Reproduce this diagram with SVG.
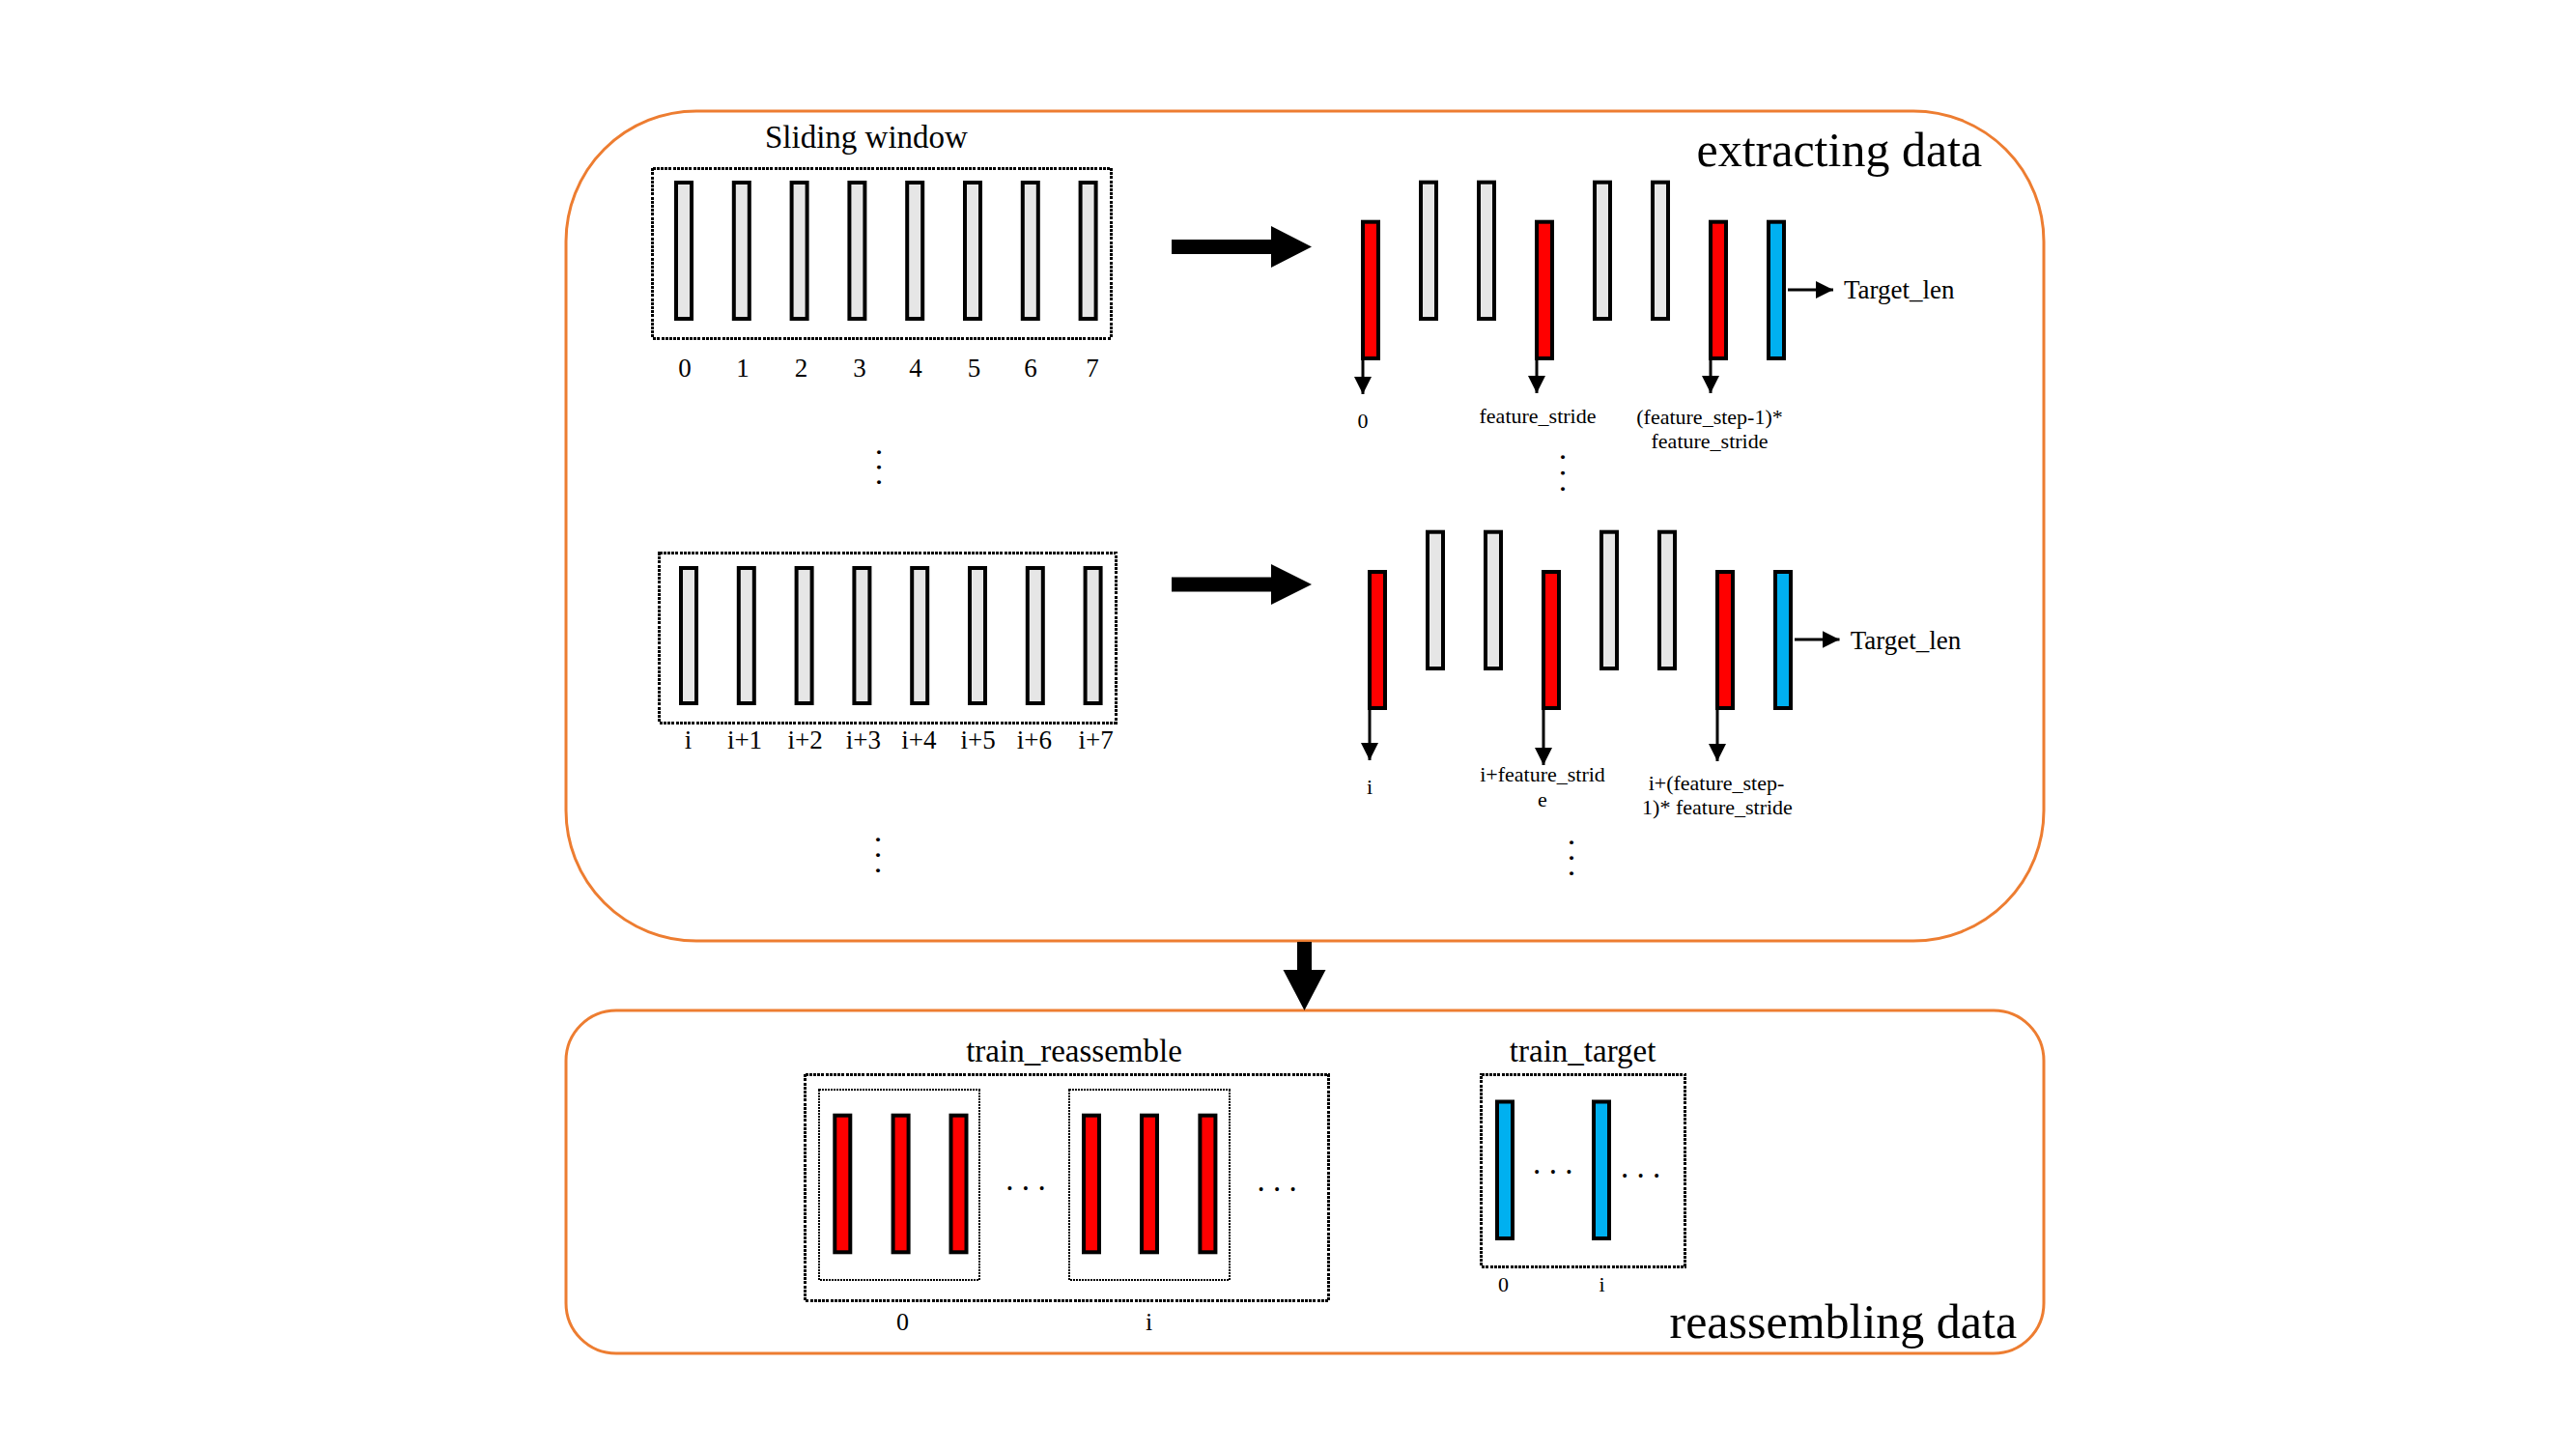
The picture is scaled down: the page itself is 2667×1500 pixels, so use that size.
<svg xmlns="http://www.w3.org/2000/svg" width="2667" height="1500" viewBox="0 0 2667 1500">
<style>
text{font-family:"Liberation Serif","Times New Roman",serif;fill:#000}
.frame{fill:none;stroke:#ED7D31;stroke-width:3}
.dot{fill:none;stroke:#000;stroke-width:3;stroke-dasharray:3 1.2;shape-rendering:crispEdges}
.dot2{fill:none;stroke:#000;stroke-width:2;stroke-dasharray:2 1;shape-rendering:crispEdges}
.g{fill:#E6E6E6;stroke:#000;stroke-width:4}
.r{fill:#FF0000;stroke:#000;stroke-width:4}
.b{fill:#00B0F0;stroke:#000;stroke-width:4}
.ln{stroke:#000;stroke-width:3;fill:none;marker-end:url(#ah)}
.big{fill:#000}
.t22{font-size:22px;text-anchor:middle}
.t27{font-size:27px;text-anchor:middle}
.t33{font-size:33px}
.t50{font-size:50px}
.el{font-size:33px}
</style>
<defs>
<marker id="ah" markerUnits="userSpaceOnUse" viewBox="0 0 18 18" refX="18" refY="9" markerWidth="18" markerHeight="18" orient="auto">
<path d="M0,0 L18,9 L0,18 z" fill="#000"/>
</marker>
</defs>
<rect width="2667" height="1500" fill="#fff"/>

<g id="extracting-data">
<rect class="frame" x="586" y="115" width="1530" height="859" rx="135" ry="135"/>
<text class="t50" x="1756.5" y="172">extracting data</text>
</g>

<g id="window-0">
<text class="t33" x="792" y="153">Sliding window</text>
<rect class="dot" x="675.5" y="174" width="474.5" height="176"/>
<rect class="g" x="700" y="189" width="16" height="141"/>
<rect class="g" x="759.8" y="189" width="16" height="141"/>
<rect class="g" x="819.6" y="189" width="16" height="141"/>
<rect class="g" x="879.4" y="189" width="16" height="141"/>
<rect class="g" x="939.2" y="189" width="16" height="141"/>
<rect class="g" x="999" y="189" width="16" height="141"/>
<rect class="g" x="1058.8" y="189" width="16" height="141"/>
<rect class="g" x="1118.6" y="189" width="16" height="141"/>
<text class="t27" x="709" y="390">0</text>
<text class="t27" x="769" y="390">1</text>
<text class="t27" x="829.5" y="390">2</text>
<text class="t27" x="890" y="390">3</text>
<text class="t27" x="948" y="390">4</text>
<text class="t27" x="1008.6" y="390">5</text>
<text class="t27" x="1067" y="390">6</text>
<text class="t27" x="1131" y="390">7</text>
<text class="el" transform="translate(907.5,463.9) rotate(90)" letter-spacing="7.25">...</text>
</g>

<g id="window-i">
<rect class="dot" x="682.5" y="572.5" width="472.5" height="175.5"/>
<rect class="g" x="705" y="588" width="16" height="140"/>
<rect class="g" x="764.8" y="588" width="16" height="140"/>
<rect class="g" x="824.6" y="588" width="16" height="140"/>
<rect class="g" x="884.4" y="588" width="16" height="140"/>
<rect class="g" x="944.2" y="588" width="16" height="140"/>
<rect class="g" x="1004" y="588" width="16" height="140"/>
<rect class="g" x="1063.8" y="588" width="16" height="140"/>
<rect class="g" x="1123.6" y="588" width="16" height="140"/>
<text class="t27" x="712.6" y="775">i</text>
<text class="t27" x="771" y="775">i+1</text>
<text class="t27" x="833.6" y="775">i+2</text>
<text class="t27" x="893.8" y="775">i+3</text>
<text class="t27" x="951.4" y="775">i+4</text>
<text class="t27" x="1012.6" y="775">i+5</text>
<text class="t27" x="1070.8" y="775">i+6</text>
<text class="t27" x="1134.6" y="775">i+7</text>
<text class="el" transform="translate(906.5,864.9) rotate(90)" letter-spacing="7.75">...</text>
</g>

<g id="extract-0">
<rect class="r" x="1411" y="229.7" width="16" height="141.3"/>
<rect class="g" x="1471" y="188.7" width="16" height="141.3"/>
<rect class="g" x="1531" y="188.7" width="16" height="141.3"/>
<rect class="r" x="1591" y="229.7" width="16" height="141.3"/>
<rect class="g" x="1651" y="188.7" width="16" height="141.3"/>
<rect class="g" x="1711" y="188.7" width="16" height="141.3"/>
<rect class="r" x="1771" y="229.7" width="16" height="141.3"/>
<rect class="b" x="1831" y="229.7" width="16" height="141.3"/>
<text class="t22" x="1411" y="443">0</text>
<text class="t22" x="1592" y="438">feature_stride</text>
<text class="t22" x="1770" y="439">(feature_step-1)*</text>
<text class="t22" x="1770" y="464">feature_stride</text>
<text style="font-size:27px" x="1909" y="309">Target_len</text>
<text class="el" transform="translate(1615.5,468.9) rotate(90)" letter-spacing="8.25">...</text>
</g>

<g id="extract-i">
<rect class="r" x="1418" y="592" width="16" height="141"/>
<rect class="g" x="1478" y="550.7" width="16" height="141.3"/>
<rect class="g" x="1538" y="550.7" width="16" height="141.3"/>
<rect class="r" x="1598" y="592" width="16" height="141"/>
<rect class="g" x="1658" y="550.7" width="16" height="141.3"/>
<rect class="g" x="1718" y="550.7" width="16" height="141.3"/>
<rect class="r" x="1778" y="592" width="16" height="141"/>
<rect class="b" x="1838" y="592" width="16" height="141"/>
<text class="t22" x="1418" y="822">i</text>
<text class="t22" x="1597" y="809">i+feature_strid</text>
<text class="t22" x="1597" y="835">e</text>
<text class="t22" x="1777" y="818">i+(feature_step-</text>
<text class="t22" x="1778" y="843">1)* feature_stride</text>
<text style="font-size:27px" x="1915.7" y="672">Target_len</text>
<text class="el" transform="translate(1624.5,867.9) rotate(90)" letter-spacing="7.75">...</text>
</g>

<g id="reassembling-data">
<rect class="frame" x="586" y="1046" width="1530" height="355" rx="52" ry="52"/>
<text class="t50" x="1728.5" y="1385">reassembling data</text>
</g>

<g id="train-reassemble">
<text class="t33" x="1112" y="1099" text-anchor="middle">train_reassemble</text>
<rect class="dot" x="833.5" y="1112" width="542" height="234.5"/>
<rect class="dot2" x="848" y="1128" width="165.5" height="197"/>
<rect class="dot2" x="1107" y="1128" width="165.5" height="197"/>
<rect class="r" x="864.3" y="1154.7" width="16" height="141.6"/>
<rect class="r" x="924.6" y="1154.7" width="16" height="141.6"/>
<rect class="r" x="984.5" y="1154.7" width="16" height="141.6"/>
<rect class="r" x="1122" y="1154.7" width="16" height="141.6"/>
<rect class="r" x="1182" y="1154.7" width="16" height="141.6"/>
<rect class="r" x="1242.4" y="1154.7" width="16" height="141.6"/>
<text class="el" x="1041.2" y="1232.2" letter-spacing="8.35">...</text>
<text class="el" x="1301.4" y="1233.2" letter-spacing="8.35">...</text>
<text style="font-size:26px;text-anchor:middle" x="934.6" y="1377">0</text>
<text style="font-size:26px;text-anchor:middle" x="1189.7" y="1377">i</text>
</g>

<g id="train-target">
<text class="t33" x="1638.6" y="1099" text-anchor="middle">train_target</text>
<rect class="dot" x="1533.5" y="1112" width="211" height="199"/>
<rect class="b" x="1550" y="1140.5" width="16" height="141.5"/>
<rect class="b" x="1650" y="1140.5" width="16" height="141.5"/>
<text class="el" x="1587.1" y="1214.8" letter-spacing="8.35">...</text>
<text class="el" x="1677.9" y="1218.8" letter-spacing="8.35">...</text>
<text class="t22" x="1556.5" y="1337">0</text>
<text class="t22" x="1658.6" y="1337">i</text>
</g>

<g id="connectors">
<polygon class="big" points="1213,248 1316,248 1316,234 1358,255.5 1316,277 1316,263 1213,263"/>
<polygon class="big" points="1213,597.5 1316,597.5 1316,584 1358,605 1316,626 1316,612.5 1213,612.5"/>
<polygon class="big" points="1343,975 1358,975 1358,1004 1372.5,1004 1350.5,1046 1328.5,1004 1343,1004"/>
<line class="ln" x1="1411" y1="371" x2="1411" y2="408"/>
<line class="ln" x1="1591" y1="371" x2="1591" y2="407"/>
<line class="ln" x1="1771" y1="371" x2="1771" y2="407"/>
<line class="ln" x1="1851" y1="300" x2="1898" y2="300"/>
<line class="ln" x1="1418" y1="733" x2="1418" y2="787"/>
<line class="ln" x1="1598" y1="733" x2="1598" y2="792"/>
<line class="ln" x1="1778" y1="733" x2="1778" y2="788"/>
<line class="ln" x1="1858" y1="662" x2="1904.5" y2="662"/>
</g>
</svg>
